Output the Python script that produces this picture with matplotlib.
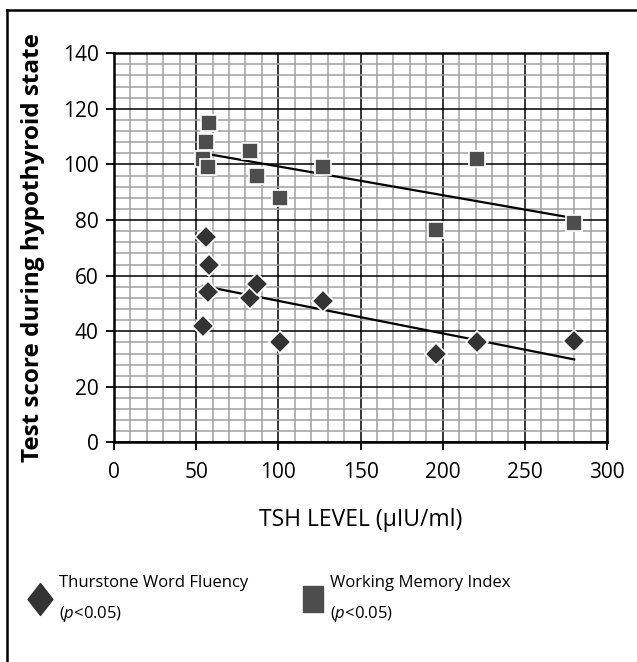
import numpy as np
from matplotlib import pyplot as plt
from matplotlib.lines import Line2D
from matplotlib.ticker import MultipleLocator

# TSH level for each patient (shared by both tests).
tshLevels = [54, 56, 57, 58, 83, 87, 101, 127, 196, 221, 280]

# Test scores during hypothyroid state.
wordFluency = [42, 74, 54, 64, 52, 57, 36, 51, 32, 36, 36.5]
workingMemory = [102, 108, 99, 115, 105, 96, 88, 99, 76.5, 102, 79]

fluencyLabel = 'Thurstone Word Fluency'
memoryLabel = 'Working Memory Index'
pLabel = '($\\it{p}$<0.05)'

fluencyColor = '#333333'
memoryColor = '#4d4d4d'

if __name__ == '__main__':
  plt.rcParams['font.family'] = ['Open Sans', 'DejaVu Sans']
  plt.rcParams['mathtext.fontset'] = 'custom'
  plt.rcParams['mathtext.it'] = 'Open Sans:italic'

  fig = plt.figure(figsize=(6.37, 6.62), dpi=100)
  ax = fig.add_axes([0.179, 0.3316, 0.774, 0.588])

  x = np.array(tshLevels)

  # Fitted trend lines.
  for scores in [wordFluency, workingMemory]:
    slope, icpt = np.polyfit(x, scores, 1)
    xs = np.array([x.min(), x.max()])
    ax.plot(xs, slope * xs + icpt, color='black', lw=1.6, zorder=3)

  # Data points.
  ax.plot(x, wordFluency, 'D', color=fluencyColor, ms=11.5,
          mec='white', mew=1.2, zorder=4, clip_on=False)
  ax.plot(x, workingMemory, 's', color=memoryColor, ms=11.5,
          mec='white', mew=1.2, zorder=4, clip_on=False)

  # Axes and grid.
  ax.set_xlim(0, 300)
  ax.set_ylim(0, 140)
  ax.xaxis.set_major_locator(MultipleLocator(50))
  ax.xaxis.set_minor_locator(MultipleLocator(10))
  ax.yaxis.set_major_locator(MultipleLocator(20))
  ax.yaxis.set_minor_locator(MultipleLocator(4))
  ax.grid(which='minor', color='#a0a0a0', lw=1.1, zorder=1)
  ax.grid(which='major', color='black', lw=1.1, zorder=2)
  ax.set_axisbelow(True)
  ax.tick_params(which='major', direction='out', length=6, width=1.3,
                 labelsize=15, pad=5)
  ax.tick_params(axis='x', which='major', pad=8)
  ax.tick_params(which='minor', length=0)
  for spine in ax.spines.values():
    spine.set_linewidth(1.8)
    spine.set_zorder(5)

  ax.set_xlabel('TSH LEVEL (µIU/ml)', fontsize=16.5, labelpad=18)
  fig.text(33 / 637, 1 - 248 / 662, 'Test score during hypothyroid state',
           rotation=90, ha='center', va='center', fontsize=17.5,
           fontweight='bold')

  # Legend drawn by hand under the plot.
  diamond = [(0, 1), (0.78, 0), (0, -1), (-0.78, 0), (0, 1)]
  box = [(-0.78, -1), (0.78, -1), (0.78, 1), (-0.78, 1), (-0.78, -1)]
  fig.add_artist(Line2D([40 / 637], [1 - 599 / 662], marker=diamond, ms=23,
                        color=fluencyColor, lw=0))
  fig.add_artist(Line2D([313 / 637], [1 - 599 / 662], marker=box, ms=19,
                        color=memoryColor, lw=0))
  fig.text(59 / 637, 1 - 583 / 662, fluencyLabel, fontsize=12, va='center')
  fig.text(59 / 637, 1 - 614 / 662, pLabel, fontsize=12, va='center')
  fig.text(330 / 637, 1 - 583 / 662, memoryLabel, fontsize=12, va='center')
  fig.text(330 / 637, 1 - 614 / 662, pLabel, fontsize=12, va='center')

  # Outer frame (left and top edges only are visible).
  fig.add_artist(Line2D([7 / 637, 7 / 637], [0, 1 - 10 / 662],
                        color='black', lw=1.8))
  fig.add_artist(Line2D([7 / 637, 1], [1 - 10 / 662, 1 - 10 / 662],
                        color='black', lw=1.8))

  fig.savefig('out.png', dpi=100)
